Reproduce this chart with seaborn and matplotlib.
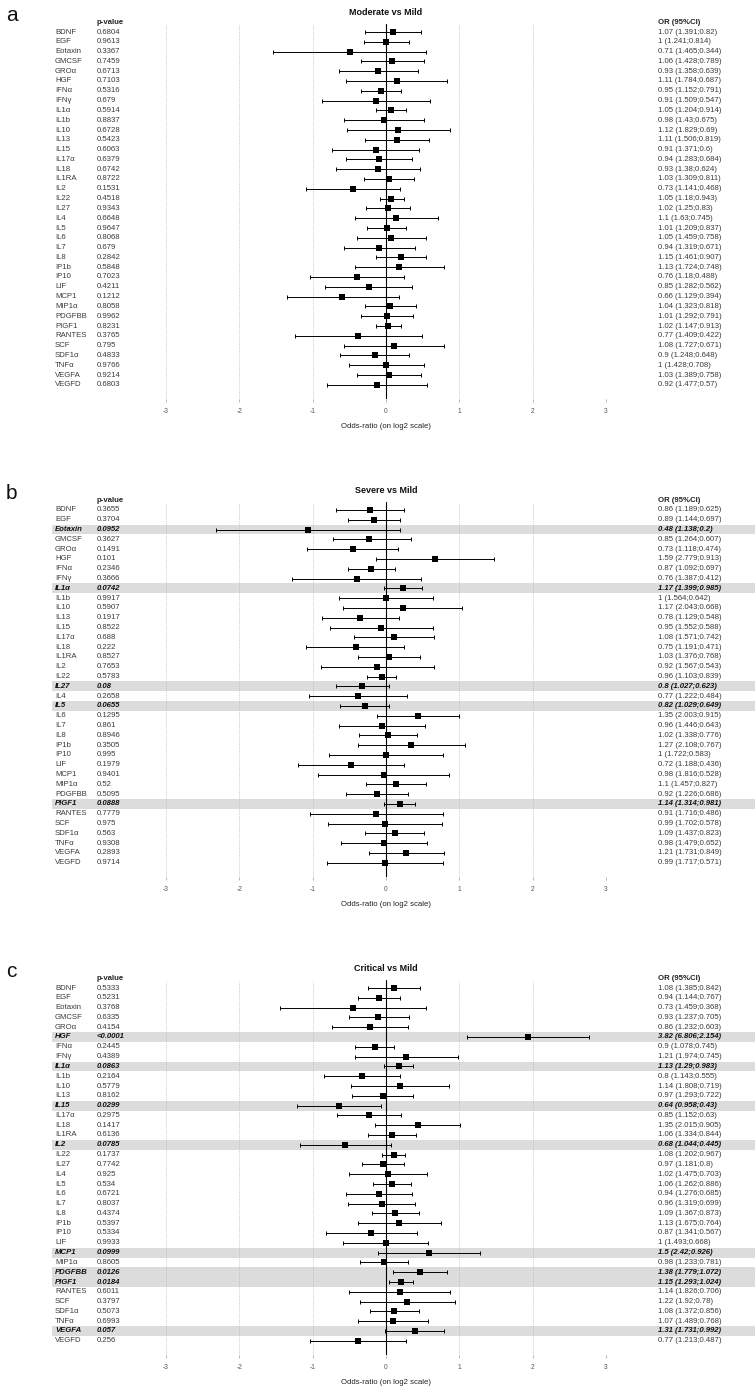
import numpy as np
import pandas as pd
import matplotlib
matplotlib.use("Agg")
import matplotlib.pyplot as plt
import matplotlib.transforms as mtransforms
from matplotlib.patches import Rectangle
import seaborn as sns

# ---------------------------------------------------------------- data
genes = ["BDNF", "EGF", "Eotaxin", "GMCSF", "GROα", "HGF", "IFNα", "IFNγ",
         "IL1α", "IL1b", "IL10", "IL13", "IL15", "IL17α", "IL18", "IL1RA",
         "IL2", "IL22", "IL27", "IL4", "IL5", "IL6", "IL7", "IL8", "IP1b",
         "IP10", "LIF", "MCP1", "MIP1α", "PDGFBB", "PIGF1", "RANTES", "SCF",
         "SDF1α", "TNFα", "VEGFA", "VEGFD"]

# Moderate vs Mild
p_mod = ["0.6804", "0.9613", "0.3367", "0.7459", "0.6713", "0.7103", "0.5316", "0.679",
         "0.5914", "0.8837", "0.6728", "0.5423", "0.6063", "0.6379", "0.6742", "0.8722",
         "0.1531", "0.4518", "0.9343", "0.6648", "0.9647", "0.8068", "0.679", "0.2842",
         "0.5848", "0.7023", "0.4211", "0.1212", "0.8058", "0.9962", "0.8231", "0.3765",
         "0.795", "0.4833", "0.9766", "0.9214", "0.6803"]
or_mod = [1.07, 1, 0.71, 1.06, 0.93, 1.11, 0.95, 0.91, 1.05, 0.98, 1.12, 1.11, 0.91,
          0.94, 0.93, 1.03, 0.73, 1.05, 1.02, 1.1, 1.01, 1.05, 0.94, 1.15, 1.13, 0.76,
          0.85, 0.66, 1.04, 1.01, 1.02, 0.77, 1.08, 0.9, 1, 1.03, 0.92]
hi_mod = [1.391, 1.241, 1.465, 1.428, 1.358, 1.784, 1.152, 1.509, 1.204, 1.43, 1.829,
          1.506, 1.371, 1.283, 1.38, 1.309, 1.141, 1.18, 1.25, 1.63, 1.209, 1.459, 1.319,
          1.461, 1.724, 1.18, 1.282, 1.129, 1.323, 1.292, 1.147, 1.409, 1.727, 1.248,
          1.428, 1.389, 1.477]
lo_mod = [0.82, 0.814, 0.344, 0.789, 0.639, 0.687, 0.791, 0.547, 0.914, 0.675, 0.69,
          0.819, 0.6, 0.684, 0.624, 0.811, 0.468, 0.943, 0.83, 0.745, 0.837, 0.758, 0.671,
          0.907, 0.748, 0.488, 0.562, 0.394, 0.818, 0.791, 0.913, 0.422, 0.671, 0.648,
          0.708, 0.758, 0.57]

# Severe vs Mild
p_sev = ["0.3655", "0.3704", "0.0952", "0.3627", "0.1491", "0.101", "0.2346", "0.3666",
         "0.0742", "0.9917", "0.5907", "0.1917", "0.8522", "0.688", "0.222", "0.8527",
         "0.7653", "0.5783", "0.08", "0.2658", "0.0655", "0.1295", "0.861", "0.8946",
         "0.3505", "0.995", "0.1979", "0.9401", "0.52", "0.5095", "0.0888", "0.7779",
         "0.975", "0.563", "0.9308", "0.2893", "0.9714"]
or_sev = [0.86, 0.89, 0.48, 0.85, 0.73, 1.59, 0.87, 0.76, 1.17, 1, 1.17, 0.78, 0.95,
          1.08, 0.75, 1.03, 0.92, 0.96, 0.8, 0.77, 0.82, 1.35, 0.96, 1.02, 1.27, 1,
          0.72, 0.98, 1.1, 0.92, 1.14, 0.91, 0.99, 1.09, 0.98, 1.21, 0.99]
hi_sev = [1.189, 1.144, 1.138, 1.264, 1.118, 2.779, 1.092, 1.387, 1.399, 1.564, 2.043,
          1.129, 1.552, 1.571, 1.191, 1.376, 1.567, 1.103, 1.027, 1.222, 1.029, 2.003,
          1.446, 1.338, 2.108, 1.722, 1.188, 1.816, 1.457, 1.226, 1.314, 1.716, 1.702,
          1.437, 1.479, 1.731, 1.717]
lo_sev = [0.625, 0.697, 0.2, 0.607, 0.474, 0.913, 0.697, 0.412, 0.985, 0.642, 0.668,
          0.548, 0.588, 0.742, 0.471, 0.768, 0.543, 0.839, 0.623, 0.484, 0.649, 0.915,
          0.643, 0.776, 0.767, 0.583, 0.436, 0.528, 0.827, 0.686, 0.981, 0.486, 0.578,
          0.823, 0.652, 0.849, 0.571]

# Critical vs Mild
p_cri = ["0.5333", "0.5231", "0.3768", "0.6335", "0.4154", "<0.0001", "0.2445", "0.4389",
         "0.0863", "0.2164", "0.5779", "0.8162", "0.0299", "0.2975", "0.1417", "0.6136",
         "0.0785", "0.1737", "0.7742", "0.925", "0.534", "0.6721", "0.8037", "0.4374",
         "0.5397", "0.5334", "0.9933", "0.0999", "0.8605", "0.0126", "0.0184", "0.6011",
         "0.3797", "0.5073", "0.6993", "0.057", "0.256"]
or_cri = [1.08, 0.94, 0.73, 0.93, 0.86, 3.82, 0.9, 1.21, 1.13, 0.8, 1.14, 0.97, 0.64,
          0.85, 1.35, 1.06, 0.68, 1.08, 0.97, 1.02, 1.06, 0.94, 0.96, 1.09, 1.13, 0.87,
          1, 1.5, 0.98, 1.38, 1.15, 1.14, 1.22, 1.08, 1.07, 1.31, 0.77]
hi_cri = [1.385, 1.144, 1.459, 1.237, 1.232, 6.806, 1.078, 1.974, 1.29, 1.143, 1.808,
          1.293, 0.958, 1.152, 2.015, 1.334, 1.044, 1.202, 1.181, 1.475, 1.262, 1.276,
          1.319, 1.367, 1.675, 1.341, 1.493, 2.42, 1.233, 1.779, 1.293, 1.826, 1.92,
          1.372, 1.489, 1.731, 1.213]
lo_cri = [0.842, 0.767, 0.368, 0.705, 0.603, 2.154, 0.745, 0.745, 0.983, 0.555, 0.719,
          0.722, 0.43, 0.63, 0.905, 0.844, 0.445, 0.967, 0.8, 0.703, 0.886, 0.685, 0.699,
          0.873, 0.764, 0.567, 0.668, 0.926, 0.781, 1.072, 1.024, 0.706, 0.78, 0.856,
          0.768, 0.992, 0.487]

ticks = [-3, -2, -1, 0, 1, 2, 3]

# ---------------------------------------------------------------- style
sns.set_theme(style="white")
plt.rcParams["font.family"] = ["Liberation Sans", "DejaVu Sans"]

W, H = 755, 1393
fig = plt.figure(figsize=(W / 100, H / 100), dpi=100)

ROW = 9.8           # pixel spacing between rows
TXT = "#3a3a3a"
FS = 5.6


def fmt(v):
    return "%g" % v


def panel(first_row_px, letter, title, pvals, ors, his, los):
    n = len(genes)
    top = first_row_px - 0.8 * ROW
    bottom = first_row_px + (n - 1 + 1.4) * ROW
    ax = fig.add_axes([166 / W, 1 - bottom / H, 440 / W, (bottom - top) / H])

    df = pd.DataFrame({
        "gene": genes,
        "row": np.arange(n),
        "l2": np.log2(ors),
        "l2lo": np.log2(los),
        "l2hi": np.log2(his),
    })

    # grid: dotted at each unit, solid at zero
    for t in ticks:
        if t == 0:
            ax.axvline(0, color="black", lw=0.8, zorder=2)
        else:
            ax.axvline(t, color="#b5b5b5", lw=0.6, ls=(0, (1, 1.6)), zorder=2)

    ax.errorbar(df["l2"], df["row"],
                xerr=[df["l2"] - df["l2lo"], df["l2hi"] - df["l2"]],
                fmt="none", ecolor="black", elinewidth=0.7,
                capsize=1.6, capthick=0.7, zorder=3)
    sns.scatterplot(data=df, x="l2", y="row", marker="s", color="black",
                    s=13, linewidth=0, ax=ax, zorder=4, legend=False)

    ax.set_xlim(-3, 3)
    ax.set_ylim(n - 1 + 1.4, -0.8)
    ax.set_xticks(ticks)
    ax.set_xticklabels([str(t) for t in ticks], fontsize=4.8, color="#555555")
    ax.tick_params(axis="x", length=2.5, width=0.5, color="#999999", pad=4,
                   bottom=True)
    ax.set_yticks([])
    ax.set_ylabel("")
    ax.set_xlabel("Odds-ratio (on log2 scale)", fontsize=FS, color="#222222",
                  labelpad=6)
    for s in ax.spines.values():
        s.set_visible(False)
    ax.patch.set_alpha(0)

    tr = mtransforms.blended_transform_factory(fig.transFigure, ax.transData)

    # column headers
    ax.text(97 / W, -1.0, "p-value", transform=tr, fontsize=FS,
            fontweight="bold", color="#222222", va="center", ha="left")
    ax.text(658 / W, -1.0, "OR (95%CI)", transform=tr, fontsize=FS,
            fontweight="bold", color="#222222", va="center", ha="left")

    for i in range(n):
        pv = pvals[i]
        pnum = float(pv.lstrip("<"))
        sig = pnum < 0.1
        kw = dict(transform=tr, fontsize=FS, va="center", ha="left",
                  color="#111111" if sig else TXT,
                  fontweight="bold" if sig else "normal",
                  fontstyle="italic" if sig else "normal")
        if sig:
            ax.add_patch(Rectangle((52 / W, i - 0.5), 1 - 52 / W, 1.0,
                                   transform=tr, facecolor="#dcdcdc",
                                   edgecolor="none", clip_on=False, zorder=0.5))
        ax.text(55 / W, i, genes[i], **kw)
        ax.text(97 / W, i, pv, **kw)
        ax.text(658 / W, i,
                "%s (%s;%s)" % (fmt(ors[i]), fmt(his[i]), fmt(los[i])), **kw)

    title_px = first_row_px - 2.0 * ROW
    fig.text(386 / W, 1 - title_px / H, title, fontsize=6.5, fontweight="bold",
             ha="center", va="center", color="#111111")
    fig.text(6 / W, 1 - (title_px + 3) / H, letter, fontsize=15,
             ha="left", va="center", color="#111111")
    return ax


panel(32, "a", "Moderate vs Mild", p_mod, or_mod, hi_mod, lo_mod)
panel(510, "b", "Severe vs Mild", p_sev, or_sev, hi_sev, lo_sev)
panel(988, "c", "Critical vs Mild", p_cri, or_cri, hi_cri, lo_cri)

fig.savefig("out.png", dpi=100, facecolor="white")
